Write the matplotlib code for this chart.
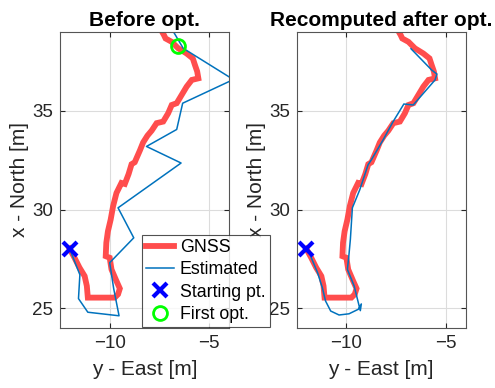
import matplotlib
matplotlib.use("Agg")
import matplotlib.pyplot as plt

plt.rcParams['font.family'] = ['Liberation Sans', 'DejaVu Sans']

# --- Data (y = East, x = North) ---
gnss_east = [-12.02, -11.77, -11.52, -11.26, -11.15, -11.10, -9.75, -9.58, -9.49, -9.66,
             -9.91, -10.00, -10.20, -10.17, -10.09, -9.95, -9.83, -9.66, -9.41, -9.24,
             -9.05, -8.90, -8.74, -8.48, -8.32, -8.10, -7.89, -7.64, -7.31, -7.06,
             -6.88, -6.63, -6.38, -6.13, -5.87, -5.54, -5.60, -5.71, -5.82, -6.13,
             -6.55, -6.88, -7.19, -7.27, -7.36, -7.45]
gnss_north = [28.02, 27.56, 27.06, 26.63, 26.13, 25.54, 25.54, 25.71, 26.00, 26.38,
              26.97, 27.56, 27.64, 28.32, 28.90, 29.50, 30.17, 30.84, 31.35, 31.30,
              31.80, 32.30, 32.40, 33.00, 33.40, 33.75, 34.00, 34.38, 34.46, 34.88,
              35.30, 35.39, 35.81, 36.23, 36.57, 36.65, 37.00, 37.32, 37.66, 37.91,
              38.17, 38.50, 38.67, 38.84, 39.00, 39.30]

est_before_east = [-12.02, -11.50, -11.57, -11.10, -9.53, -9.80, -10.00, -8.79, -9.58,
                   -6.41, -8.15, -6.63, -6.33, -3.78, -6.30, -6.77, -6.95]
est_before_north = [28.02, 26.70, 25.49, 24.80, 24.62, 26.00, 27.31, 28.57, 30.09,
                    32.36, 33.20, 34.06, 35.39, 36.59, 38.17, 38.97, 39.40]

est_after_east = [-11.94, -11.45, -11.21, -11.05, -10.79, -10.37, -9.87, -9.40, -9.25,
                  -9.30, -9.36, -9.61, -9.95, -9.87, -9.80, -9.70, -9.33, -8.91, -8.74,
                  -8.15, -7.65, -7.11, -6.64, -5.54, -5.45, -5.71, -6.75]
est_after_north = [27.98, 26.80, 26.04, 25.37, 24.86, 24.66, 24.72, 24.95, 25.22,
                   24.88, 25.12, 26.13, 26.97, 27.73, 28.50, 30.09, 31.00, 32.27, 32.53,
                   33.54, 34.46, 35.35, 35.30, 36.57, 36.87, 37.07, 38.15]

start_pt = (-12.02, 28.02)
first_opt = (-6.58, 38.28)

titles = ["Before opt.", "Recomputed after opt."]
x_ticks = [-10, -5]
y_ticks = [25, 30, 35]

GNSS_RED = (1.0, 0.3, 0.3)
EST_BLUE = '#0072BD'
AX_GRAY = '#262626'

fig = plt.figure(figsize=(4.95, 3.88), dpi=100)
ax_l = fig.add_axes([0.1212, 0.1546, 0.3414, 0.763])
ax_r = fig.add_axes([0.5994, 0.1546, 0.3414, 0.763])


def style_axes(ax, title):
    ax.set_xlim(-12.5, -4)
    ax.set_ylim(24, 39)
    ax.set_xticks(x_ticks)
    ax.set_yticks(y_ticks)
    ax.grid(True, color='#dcdcdc', linewidth=0.8)
    ax.set_axisbelow(True)
    ax.tick_params(direction='in', length=3.5, width=0.8, top=True, right=True,
                   labelsize=13.5, colors=AX_GRAY, pad=5)
    for sp in ax.spines.values():
        sp.set_color('#555555')
        sp.set_linewidth(0.8)
    ax.set_title(title, fontsize=15, fontweight='bold', pad=4)
    ax.set_xlabel("y - East [m]", fontsize=15, color=AX_GRAY, labelpad=6)
    ax.set_ylabel("x - North [m]", fontsize=15, color=AX_GRAY, labelpad=2)


# --- Before optimization ---
h_gnss, = ax_l.plot(gnss_east, gnss_north, color=GNSS_RED, lw=4.2, label='GNSS',
                    solid_joinstyle='miter')
h_est, = ax_l.plot(est_before_east, est_before_north, color=EST_BLUE, lw=1.1,
                   label='Estimated')
h_start, = ax_l.plot(*start_pt, 'x', color='#0000FF', ms=10, mew=3, ls='none',
                     label='Starting pt.')
h_opt, = ax_l.plot(*first_opt, 'o', color='#00FF00', mfc='none', ms=10, mew=2,
                   ls='none', label='First opt.')
style_axes(ax_l, titles[0])

# --- Recomputed after optimization ---
ax_r.plot(gnss_east, gnss_north, color=GNSS_RED, lw=4.2, solid_joinstyle='miter')
ax_r.plot(est_after_east, est_after_north, color=EST_BLUE, lw=1.1)
ax_r.plot(*start_pt, 'x', color='#0000FF', ms=10, mew=3)
style_axes(ax_r, titles[1])

leg = fig.legend(handles=[h_gnss, h_est, h_start, h_opt], loc='lower left',
                 bbox_to_anchor=(0.286, 0.156), fontsize=12.8, frameon=True,
                 fancybox=False, borderpad=0.25, labelspacing=0.3,
                 handlelength=1.6, handletextpad=0.3, borderaxespad=0)
leg.get_frame().set_edgecolor(AX_GRAY)
leg.get_frame().set_linewidth(0.8)
leg.set_zorder(10)

fig.savefig("out.png", dpi=100)
